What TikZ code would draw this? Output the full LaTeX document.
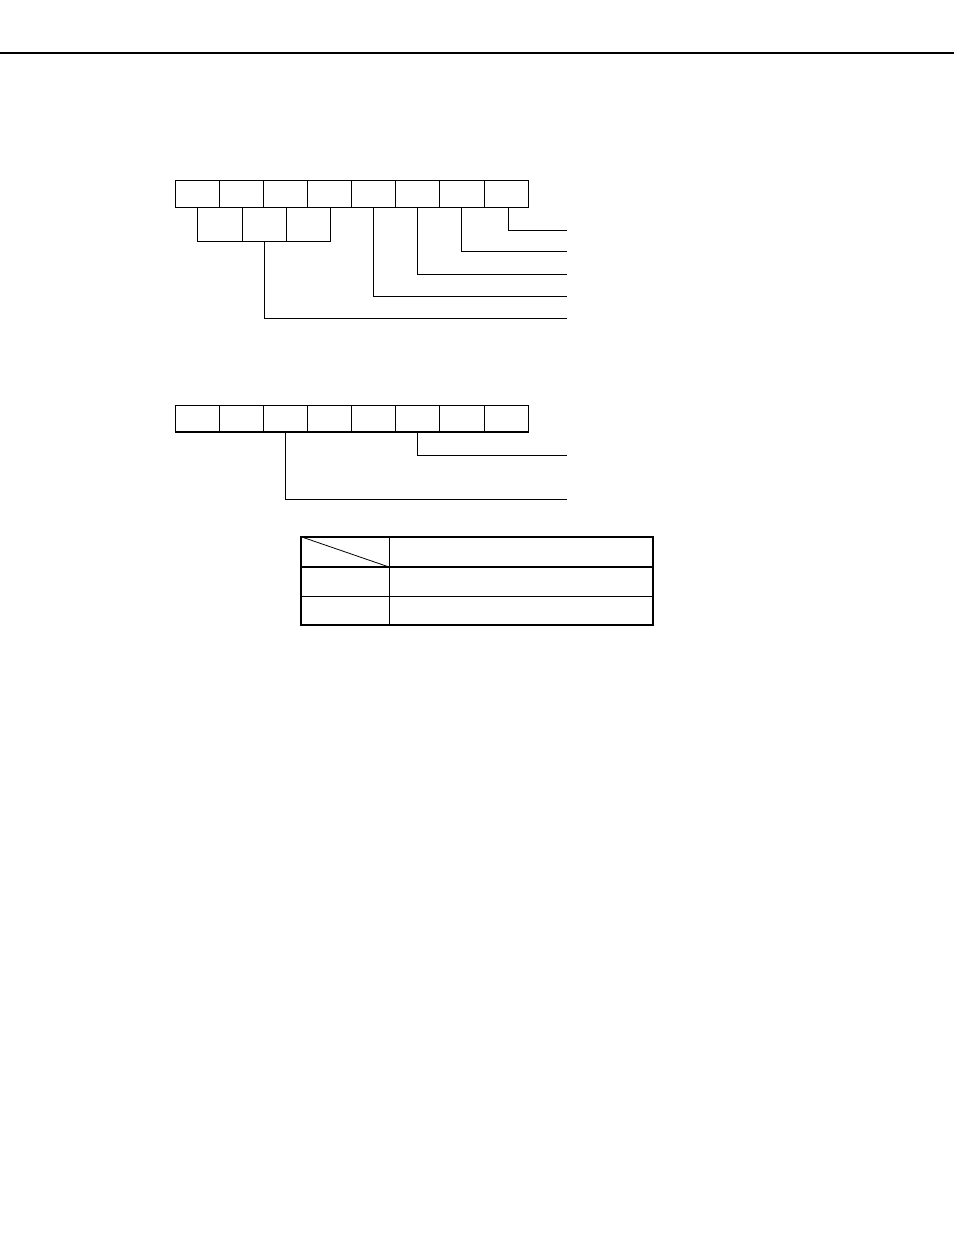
\documentclass[tikz,border=0pt]{standalone}
\begin{document}
\begin{tikzpicture}[x=1pt,y=-1pt,
  cell/.style={draw,line width=1pt,minimum width=44.15pt,minimum height=26.7pt,inner sep=0pt,anchor=north west},
  subcell/.style={draw,line width=1pt,minimum width=44.3pt,minimum height=34pt,inner sep=0pt,anchor=north west},
  wire/.style={line width=1pt},
  thick line/.style={line width=1.6pt}]
\useasboundingbox (0,0) rectangle (954,1235);
% top rule
\coordinate (rl) at (0,53);
\coordinate (rr) at (954,53);
\draw[line width=1.3pt] (rl) -- (rr);
% register 1
\foreach \i in {0,...,7}
  \node[cell] (a\i) at ({174.5+44.15*\i},180) {};
\foreach \i in {0,...,2}
  \node[subcell] (b\i) at ({197.3+44.3*\i},206.7) {};
\coordinate (e1) at (567.3,230.3);
\coordinate (e2) at (567.3,251.7);
\coordinate (e3) at (567.3,274);
\coordinate (e4) at (567.3,296.3);
\coordinate (e5) at (567.3,318.3);
\draw[wire] ([xshift=2pt]a7.south) |- (e1);
\draw[wire] (a6.south) |- (e2);
\draw[wire] (a5.south) |- (e3);
\draw[wire] (a4.south) |- (e4);
\draw[wire] (b1.south) |- (e5);
% register 2
\foreach \i in {0,...,7}
  \node[cell] (c\i) at ({174.5+44.15*\i},405) {};
\coordinate (f1l) at (174.5,431.7);
\coordinate (f1r) at (527.7,431.7);
\draw[thick line] (f1l) -- (f1r);
\coordinate (f1) at (567.3,455.3);
\coordinate (f2) at (567.3,499.3);
\draw[wire] (c5.south) |- (f1);
\draw[wire] (c2.south) |- (f2);
% table
\coordinate (t1) at (301,536.7);
\coordinate (t2) at (653,625);
\coordinate (h1) at (301,567);
\coordinate (h2) at (653,567);
\coordinate (r1) at (301,596.3);
\coordinate (r2) at (653,596.3);
\coordinate (v1) at (389,536.7);
\coordinate (v2) at (389,625);
\coordinate (d2) at (389,567);
\draw[thick line] (t1) rectangle (t2);
\draw[thick line] (h1) -- (h2);
\draw[wire] (r1) -- (r2);
\draw[wire] (v1) -- (v2);
\draw[line width=0.8pt] (t1) -- (d2);
\end{tikzpicture}
\end{document}
